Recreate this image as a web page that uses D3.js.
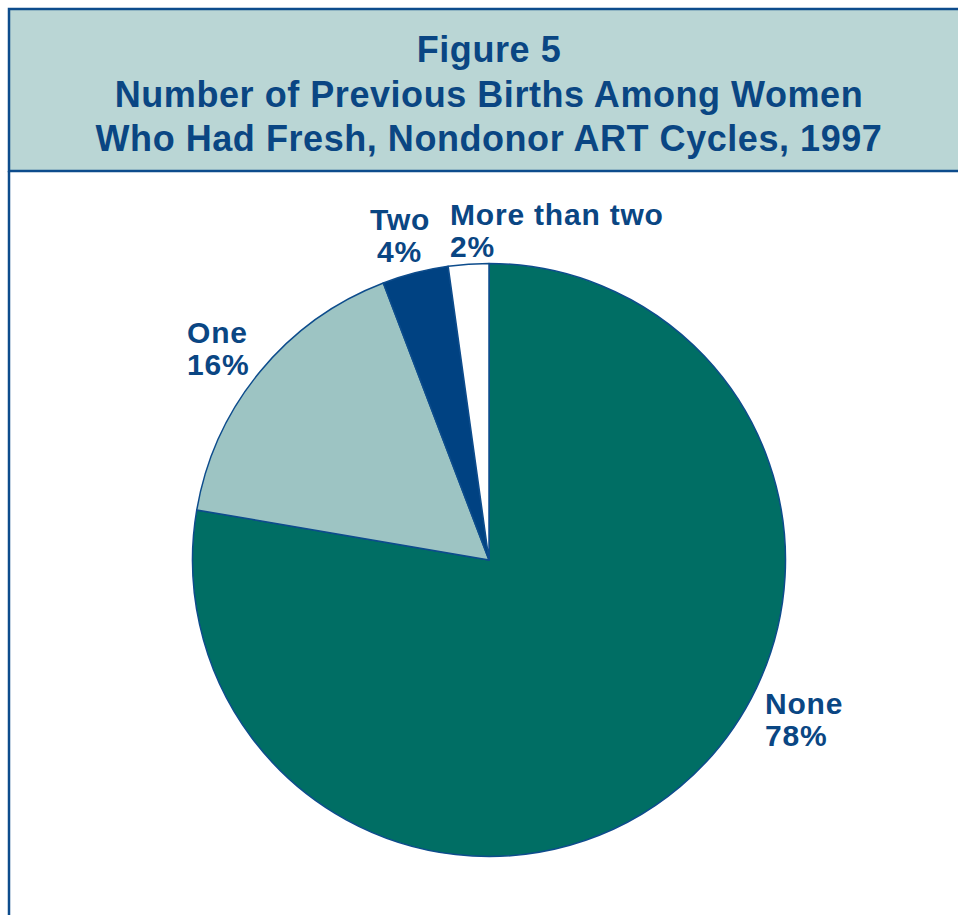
<!DOCTYPE html>
<html>
<head>
<meta charset="utf-8">
<script src="https://cdn.jsdelivr.net/npm/d3@7"></script>
<style>
  body { margin: 0; background: #fff; }
  text { font-family: "Liberation Sans", Arial, sans-serif; font-weight: bold; fill: #0a4683; }
</style>
</head>
<body>
<script>
// data
const categories = ['None', 'One', 'Two', 'More than two'];
const shares = [77.7, 16.5, 3.6, 2.2];
const pctLabels = ['78%', '16%', '4%', '2%'];
const sliceColors = ['#006e64', '#9dc4c3', '#004282', '#ffffff'];
const titleLines = ['Figure 5', 'Number of Previous Births Among Women', 'Who Had Fresh, Nondonor ART Cycles, 1997'];

const width = 958;
const height = 915;
const blue = '#0d4c8c';

const svg = d3.select('body')
  .append('svg')
  .attr('width', width)
  .attr('height', height);

// header box + left rule
svg.append('rect')
  .attr('x', 9).attr('y', 9)
  .attr('width', 980).attr('height', 162)
  .attr('fill', '#bad6d5')
  .attr('stroke', blue)
  .attr('stroke-width', 2.5);
svg.append('line')
  .attr('x1', 9).attr('x2', 9)
  .attr('y1', 171).attr('y2', height)
  .attr('stroke', blue)
  .attr('stroke-width', 2.5);

svg.selectAll('.title')
  .data(titleLines)
  .enter().append('text')
  .attr('class', 'title')
  .attr('x', 489)
  .attr('y', (d, i) => 62 + i * 44.7)
  .attr('text-anchor', 'middle')
  .style('font-size', '36px')
  .style('letter-spacing', '0.55px')
  .text(d => d);

// pie
const cx = 489, cy = 560, r = 296.5;
const pie = d3.pie().sort(null).value(d => d);
const arc = d3.arc().innerRadius(0).outerRadius(r);

const g = svg.append('g').attr('transform', `translate(${cx},${cy})`);
g.selectAll('path')
  .data(pie(shares))
  .enter().append('path')
  .attr('d', arc)
  .attr('fill', (d, i) => sliceColors[i])
  .attr('stroke', blue)
  .attr('stroke-width', 1.5)
  .attr('stroke-linejoin', 'round');

// label placement (top-left corner of each label block)
const labelPos = [[765, 714], [187, 343], [370, 230], [450, 225]];
const lbl = svg.selectAll('.lbl')
  .data(categories)
  .enter().append('g')
  .attr('class', 'lbl')
  .attr('transform', (d, i) => `translate(${labelPos[i][0]},${labelPos[i][1]})`);
lbl.append('text')
  .style('font-size', '30px')
  .style('letter-spacing', '0.8px')
  .text(d => d);
lbl.append('text')
  .attr('x', (d, i) => i === 2 ? 7 : 0)
  .attr('y', 32)
  .style('font-size', '30px')
  .style('letter-spacing', '0.8px')
  .text((d, i) => pctLabels[i]);
</script>
</body>
</html>
